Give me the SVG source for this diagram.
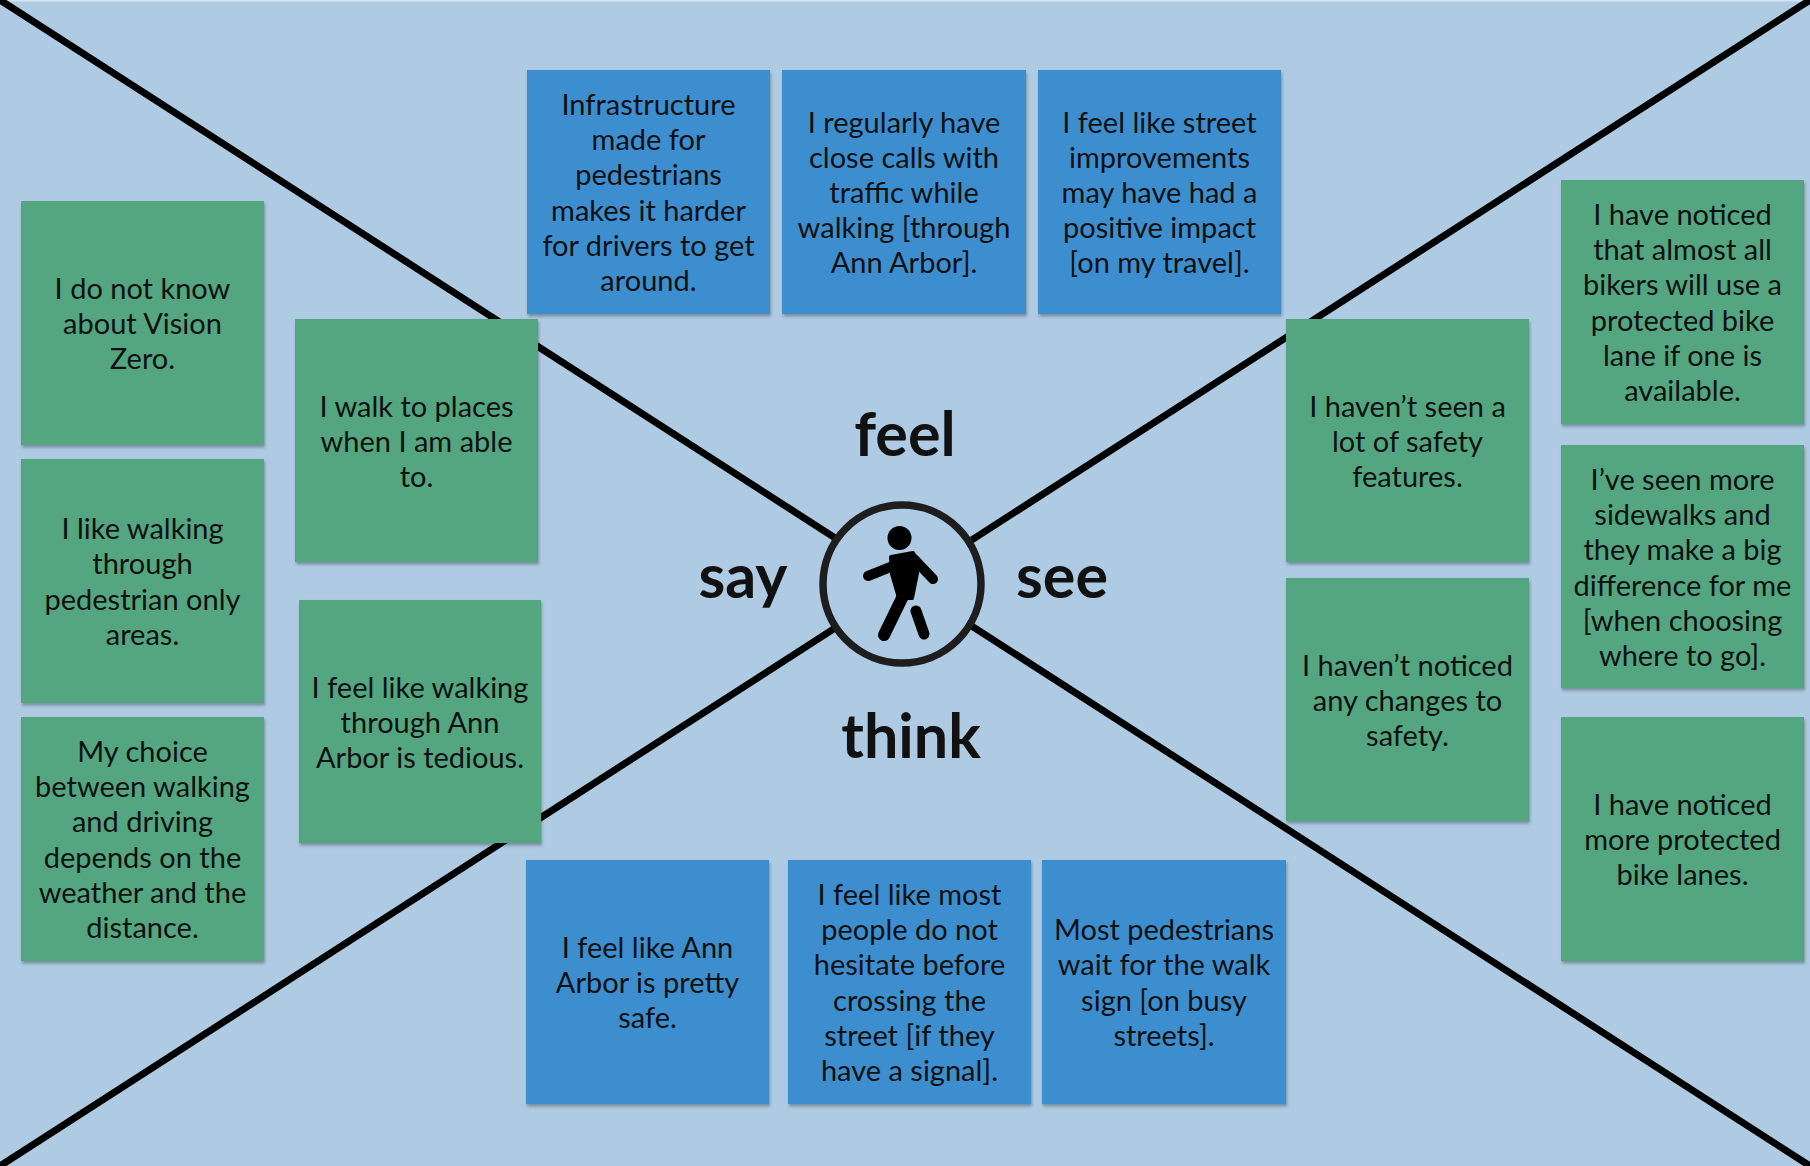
<svg xmlns="http://www.w3.org/2000/svg" width="1810" height="1166" viewBox="0 0 1810 1166">
<defs>
<filter id="sh" x="-5%" y="-5%" width="115%" height="115%">
<feDropShadow dx="1" dy="2.5" stdDeviation="1.5" flood-color="#000" flood-opacity="0.3"/>
</filter>
<style>
.bg{fill:#AECBE3}
.blue{fill:#3D8ECF;filter:url(#sh)}
.green{fill:#52A680;filter:url(#sh)}
.t{font-family:Lato,"Liberation Sans",sans-serif;font-size:29px;fill:#111;text-anchor:middle}
.lab{font-family:Lato,"Liberation Sans",sans-serif;font-size:61px;font-weight:bold;fill:#111;text-anchor:middle}
.ln{stroke:#000;stroke-width:7;fill:none}
</style>
</defs>
<rect class="bg" x="0" y="0" width="1810" height="1166"/>
<rect x="0" y="0" width="1810" height="1.5" fill="#D5E3F0"/>
<g id="connectors">
<line class="ln" x1="0" y1="0" x2="1810" y2="1166"/>
<line class="ln" x1="1810" y1="0" x2="0" y2="1166"/>
</g>
<g id="center">
<circle cx="902" cy="584" r="79" fill="#AECBE3" stroke="#1E1E1E" stroke-width="7.5"/>
<g id="walker" fill="#000" stroke="#000" stroke-linecap="round" stroke-linejoin="round">
<circle cx="899.5" cy="538" r="12" stroke="none"/>
<path d="M891 557 L913 553 L919 563 L912 598 L899 598 L892 574 Z" stroke-width="4"/>
<line x1="893" y1="566" x2="868" y2="576" stroke-width="10"/>
<line x1="914" y1="559" x2="933" y2="579" stroke-width="10"/>
<line x1="904" y1="594" x2="884" y2="635" stroke-width="12"/>
<line x1="916" y1="611" x2="924" y2="634" stroke-width="11"/>
</g>
</g>
<g id="labels">
<text class="lab" x="905" y="456">feel</text>
<text class="lab" x="743" y="598">say</text>
<text class="lab" x="1062" y="598">see</text>
<text class="lab" x="911" y="758">think</text>
</g>
<g id="n-b1"><rect class="blue" x="527" y="70" width="243" height="244"/>
<text class="t" x="648.5" y="115"><tspan x="648.5">Infrastructure</tspan><tspan x="648.5" dy="35.2">made for</tspan><tspan x="648.5" dy="35.2">pedestrians</tspan><tspan x="648.5" dy="35.2">makes it harder</tspan><tspan x="648.5" dy="35.2">for drivers to get</tspan><tspan x="648.5" dy="35.2">around.</tspan></text></g>
<g id="n-b2"><rect class="blue" x="782" y="70" width="244" height="244"/>
<text class="t" x="904" y="132.6"><tspan x="904">I regularly have</tspan><tspan x="904" dy="35.2">close calls with</tspan><tspan x="904" dy="35.2">traffic while</tspan><tspan x="904" dy="35.2">walking [through</tspan><tspan x="904" dy="35.2">Ann Arbor].</tspan></text></g>
<g id="n-b3"><rect class="blue" x="1038" y="70" width="243" height="244"/>
<text class="t" x="1159.5" y="132.6"><tspan x="1159.5">I feel like street</tspan><tspan x="1159.5" dy="35.2">improvements</tspan><tspan x="1159.5" dy="35.2">may have had a</tspan><tspan x="1159.5" dy="35.2">positive impact</tspan><tspan x="1159.5" dy="35.2">[on my travel].</tspan></text></g>
<g id="n-g1"><rect class="green" x="21" y="201" width="243" height="244"/>
<text class="t" x="142.5" y="298.8"><tspan x="142.5">I do not know</tspan><tspan x="142.5" dy="35.2">about Vision</tspan><tspan x="142.5" dy="35.2">Zero.</tspan></text></g>
<g id="n-g2"><rect class="green" x="21" y="459" width="243" height="244"/>
<text class="t" x="142.5" y="539.2"><tspan x="142.5">I like walking</tspan><tspan x="142.5" dy="35.2">through</tspan><tspan x="142.5" dy="35.2">pedestrian only</tspan><tspan x="142.5" dy="35.2">areas.</tspan></text></g>
<g id="n-g3"><rect class="green" x="21" y="717" width="243" height="244"/>
<text class="t" x="142.5" y="762"><tspan x="142.5">My choice</tspan><tspan x="142.5" dy="35.2">between walking</tspan><tspan x="142.5" dy="35.2">and driving</tspan><tspan x="142.5" dy="35.2">depends on the</tspan><tspan x="142.5" dy="35.2">weather and the</tspan><tspan x="142.5" dy="35.2">distance.</tspan></text></g>
<g id="n-g4"><rect class="green" x="295" y="319" width="243" height="243"/>
<text class="t" x="416.5" y="416.8"><tspan x="416.5">I walk to places</tspan><tspan x="416.5" dy="35.2">when I am able</tspan><tspan x="416.5" dy="35.2">to.</tspan></text></g>
<g id="n-g5"><rect class="green" x="299" y="600" width="242" height="243"/>
<text class="t" x="420" y="697.8"><tspan x="420">I feel like walking</tspan><tspan x="420" dy="35.2">through Ann</tspan><tspan x="420" dy="35.2">Arbor is tedious.</tspan></text></g>
<g id="n-g6"><rect class="green" x="1286" y="319" width="243" height="243"/>
<text class="t" x="1407.5" y="416.8"><tspan x="1407.5">I haven’t seen a</tspan><tspan x="1407.5" dy="35.2">lot of safety</tspan><tspan x="1407.5" dy="35.2">features.</tspan></text></g>
<g id="n-g7"><rect class="green" x="1286" y="578" width="243" height="243"/>
<text class="t" x="1407.5" y="675.8"><tspan x="1407.5">I haven’t noticed</tspan><tspan x="1407.5" dy="35.2">any changes to</tspan><tspan x="1407.5" dy="35.2">safety.</tspan></text></g>
<g id="n-g8"><rect class="green" x="1561" y="180" width="243" height="244"/>
<text class="t" x="1682.5" y="225"><tspan x="1682.5">I have noticed</tspan><tspan x="1682.5" dy="35.2">that almost all</tspan><tspan x="1682.5" dy="35.2">bikers will use a</tspan><tspan x="1682.5" dy="35.2">protected bike</tspan><tspan x="1682.5" dy="35.2">lane if one is</tspan><tspan x="1682.5" dy="35.2">available.</tspan></text></g>
<g id="n-g9"><rect class="green" x="1561" y="445" width="243" height="243"/>
<text class="t" x="1682.5" y="490"><tspan x="1682.5">I’ve seen more</tspan><tspan x="1682.5" dy="35.2">sidewalks and</tspan><tspan x="1682.5" dy="35.2">they make a big</tspan><tspan x="1682.5" dy="35.2">difference for me</tspan><tspan x="1682.5" dy="35.2">[when choosing</tspan><tspan x="1682.5" dy="35.2">where to go].</tspan></text></g>
<g id="n-g10"><rect class="green" x="1561" y="717" width="243" height="244"/>
<text class="t" x="1682.5" y="814.8"><tspan x="1682.5">I have noticed</tspan><tspan x="1682.5" dy="35.2">more protected</tspan><tspan x="1682.5" dy="35.2">bike lanes.</tspan></text></g>
<g id="n-b4"><rect class="blue" x="526" y="860" width="243" height="244"/>
<text class="t" x="647.5" y="957.8"><tspan x="647.5">I feel like Ann</tspan><tspan x="647.5" dy="35.2">Arbor is pretty</tspan><tspan x="647.5" dy="35.2">safe.</tspan></text></g>
<g id="n-b5"><rect class="blue" x="788" y="860" width="243" height="244"/>
<text class="t" x="909.5" y="905"><tspan x="909.5">I feel like most</tspan><tspan x="909.5" dy="35.2">people do not</tspan><tspan x="909.5" dy="35.2">hesitate before</tspan><tspan x="909.5" dy="35.2">crossing the</tspan><tspan x="909.5" dy="35.2">street [if they</tspan><tspan x="909.5" dy="35.2">have a signal].</tspan></text></g>
<g id="n-b6"><rect class="blue" x="1042" y="860" width="244" height="244"/>
<text class="t" x="1164" y="940.2"><tspan x="1164">Most pedestrians</tspan><tspan x="1164" dy="35.2">wait for the walk</tspan><tspan x="1164" dy="35.2">sign [on busy</tspan><tspan x="1164" dy="35.2">streets].</tspan></text></g>
</svg>
